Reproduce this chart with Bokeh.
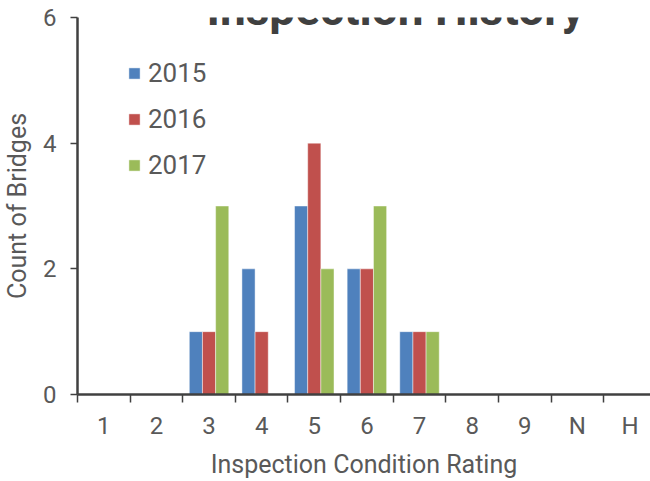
from bokeh.plotting import figure
from bokeh.models import FixedTicker, Range1d, Legend, LegendItem, Label, ColumnDataSource
from bokeh.embed import file_html
from bokeh.resources import INLINE

ratings = ["1", "2", "3", "4", "5", "6", "7", "8", "9", "N", "H"]
years = ["2015", "2016", "2017"]
counts_2015 = [0, 0, 1, 2, 3, 2, 1, 0, 0, 0, 0]
counts_2016 = [0, 0, 1, 1, 4, 2, 1, 0, 0, 0, 0]
counts_2017 = [0, 0, 3, 0, 2, 3, 1, 0, 0, 0, 0]
y_ticks = [0, 2, 4, 6]
colors = ["#4F81BD", "#C0504D", "#9BBB59"]

series = [counts_2015, counts_2016, counts_2017]
pos = [i + 1 for i in range(len(ratings))]
offsets = [-0.25, 0.0, 0.25]
bar_w = 0.25

FW, FH = 573, 377
p = figure(frame_width=FW, frame_height=FH, x_range=Range1d(0.5, 11.39), y_range=Range1d(0, 6),
           output_backend="svg", toolbar_location=None,
           min_border_left=69, min_border_right=0, min_border_top=17, min_border_bottom=70)

items = []
for yr, vals, off, col in zip(years, series, offsets, colors):
    src = ColumnDataSource(dict(x=[q + off for q in pos], top=vals))
    r = p.vbar(x="x", top="top", width=bar_w, source=src, fill_color=col,
               line_color="white", line_width=1, line_alpha=0.45)
    items.append(LegendItem(label=yr, renderers=[r]))

legend = Legend(items=items, location=(50, 214), orientation="vertical",
                glyph_width=14, glyph_height=14, label_standoff=7, spacing=16,
                padding=0, margin=0, border_line_color=None, background_fill_alpha=0,
                label_text_font="Roboto", label_text_font_size="26px", label_text_color="#595959")
p.add_layout(legend)

axis_col = "#404040"
text_col = "#595959"

xa = p.xaxis[0]
xa.ticker = FixedTicker(ticks=pos, minor_ticks=[i + 0.5 for i in range(len(ratings) + 1)])
xa.major_label_overrides = {q: lab for q, lab in zip(pos, ratings)}
xa.major_tick_line_color = None
xa.major_tick_out = 0
xa.major_tick_in = 0
xa.minor_tick_out = 8
xa.minor_tick_in = 0
xa.minor_tick_line_color = axis_col
xa.minor_tick_line_width = 1.5
xa.axis_line_color = axis_col
xa.axis_line_width = 2.5
xa.major_label_text_font = "Roboto"
xa.major_label_text_font_size = "24px"
xa.major_label_text_color = text_col
xa.major_label_standoff = 9
xa.axis_label = "Inspection Condition Rating"
xa.axis_label_text_font = "Roboto"
xa.axis_label_text_font_style = "normal"
xa.axis_label_text_font_size = "25px"
xa.axis_label_text_color = text_col
xa.axis_label_standoff = 7

ya = p.yaxis[0]
ya.ticker = FixedTicker(ticks=y_ticks, minor_ticks=[])
ya.major_tick_out = 7
ya.major_tick_in = 0
ya.major_tick_line_color = axis_col
ya.major_tick_line_width = 1.5
ya.minor_tick_line_color = None
ya.axis_line_color = axis_col
ya.axis_line_width = 2.5
ya.major_label_text_font = "Roboto"
ya.major_label_text_font_size = "24px"
ya.major_label_text_color = text_col
ya.major_label_standoff = 14
ya.axis_label = "Count of Bridges"
ya.axis_label_text_font = "Roboto"
ya.axis_label_text_font_style = "normal"
ya.axis_label_text_font_size = "25px"
ya.axis_label_text_color = text_col
ya.axis_label_standoff = 8

p.grid.visible = False
p.outline_line_color = None

title = Label(x=318, y=FH + 9, x_units="screen", y_units="screen", text="Inspection History",
              text_font="Roboto", text_font_style="bold", text_font_size="46px",
              text_color="#404040", text_align="center", text_baseline="alphabetic")
p.add_layout(title)

open("out.html", "w").write(file_html(p, INLINE))
